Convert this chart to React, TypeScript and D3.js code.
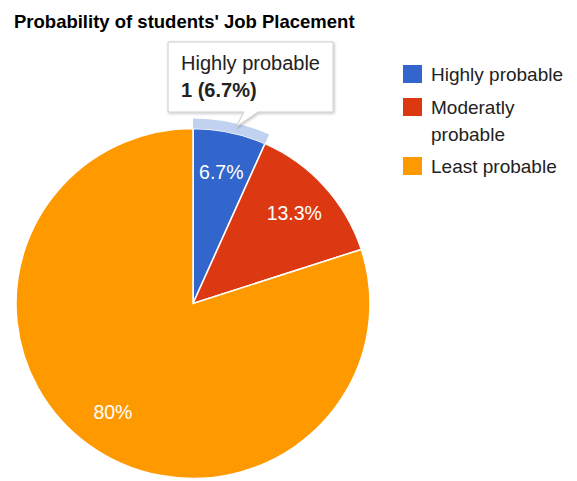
import React from "react";
import * as d3 from "d3";

const legendLines = [["Highly probable"], ["Moderatly", "probable"], ["Least probable"]];
const values = [1, 2, 12];
const colors = ["#3366cc", "#dc3912", "#ff9900"];
const title = "Probability of students' Job Placement";
const tooltipLines = ["Highly probable", "1 (6.7%)"];

const W = 577;
const H = 481;
const FONT = "Arial, 'Liberation Sans', sans-serif";

export default function App() {
  const cx = 193;
  const cy = 303.5;
  const r = 175;
  const sx = 177 / 175;
  const total = d3.sum(values);
  const pie = d3.pie<number>().sort(null).value((d) => d)(values);
  const arc = d3.arc<d3.PieArcDatum<number>>().innerRadius(0).outerRadius(r);
  const ring = d3.arc<d3.PieArcDatum<number>>().innerRadius(r).outerRadius(r + 10);
  const labelArc = d3.arc<d3.PieArcDatum<number>>().innerRadius(r * 0.77).outerRadius(r * 0.77);
  const fmt = (v: number) => {
    const p = (v / total) * 100;
    return (Math.round(p * 10) / 10).toString() + "%";
  };

  // tooltip geometry
  const tx = 168, ty = 42, tw = 165, th = 70;
  const tipBase1 = 244, tipBase2 = 258;
  const tipX = 236, tipY = 127;

  let legendY = 65;
  const legendItems = legendLines.map((lines, i) => {
    const y = legendY;
    legendY += 33 + (lines.length - 1) * 26;
    return { lines, y, color: colors[i] };
  });

  return (
    <svg width={W} height={H} style={{ position: "absolute", left: 0, top: 0, background: "#fff" }}>
      <defs>
        <filter id="sh" x="-10%" y="-10%" width="130%" height="140%">
          <feDropShadow dx="1" dy="1" stdDeviation="1.5" floodColor="#000" floodOpacity="0.25" />
        </filter>
      </defs>
      <text x={14} y={28} fontFamily={FONT} fontWeight="bold" fontSize={18.5} fill="#000">
        {title}
      </text>
      <g transform={`translate(${cx},${cy}) scale(${sx},1)`}>
        {pie.map((d, i) => (
          <path key={i} d={arc(d) || ""} fill={colors[i]} stroke="#fff" strokeWidth={1.5} />
        ))}
        <path d={ring(pie[0]) || ""} fill={colors[0]} fillOpacity={0.3} />
      </g>
      <g transform={`translate(${cx},${cy})`}>
        {pie.map((d, i) => {
          const [lx, ly] = labelArc.centroid(d);
          return (
            <text
              key={i}
              x={lx * sx}
              y={ly}
              dy="0.35em"
              textAnchor="middle"
              fontFamily={FONT}
              fontSize={19.5}
              fill="#fff"
            >
              {fmt(d.data)}
            </text>
          );
        })}
      </g>
      <g filter="url(#sh)">
        <path
          d={`M${tx},${ty} H${tx + tw} V${ty + th} H${tipBase2} L${tipX},${tipY} L${tipBase1},${ty + th} H${tx} Z`}
          fill="#fff"
          stroke="#cccccc"
          strokeWidth={1}
        />
      </g>
      <text x={181} y={70} fontFamily={FONT} fontSize={20} fill="#222">
        {tooltipLines[0]}
      </text>
      <text x={181} y={97} fontFamily={FONT} fontSize={20} fontWeight="bold" fill="#222">
        {tooltipLines[1]}
      </text>
      {legendItems.map((it, i) => (
        <g key={i}>
          <rect x={403} y={it.y} width={19} height={18} fill={it.color} />
          {it.lines.map((ln, j) => (
            <text key={j} x={431} y={it.y + 16 + j * 27} fontFamily={FONT} fontSize={19} fill="#222">
              {ln}
            </text>
          ))}
        </g>
      ))}
    </svg>
  );
}
